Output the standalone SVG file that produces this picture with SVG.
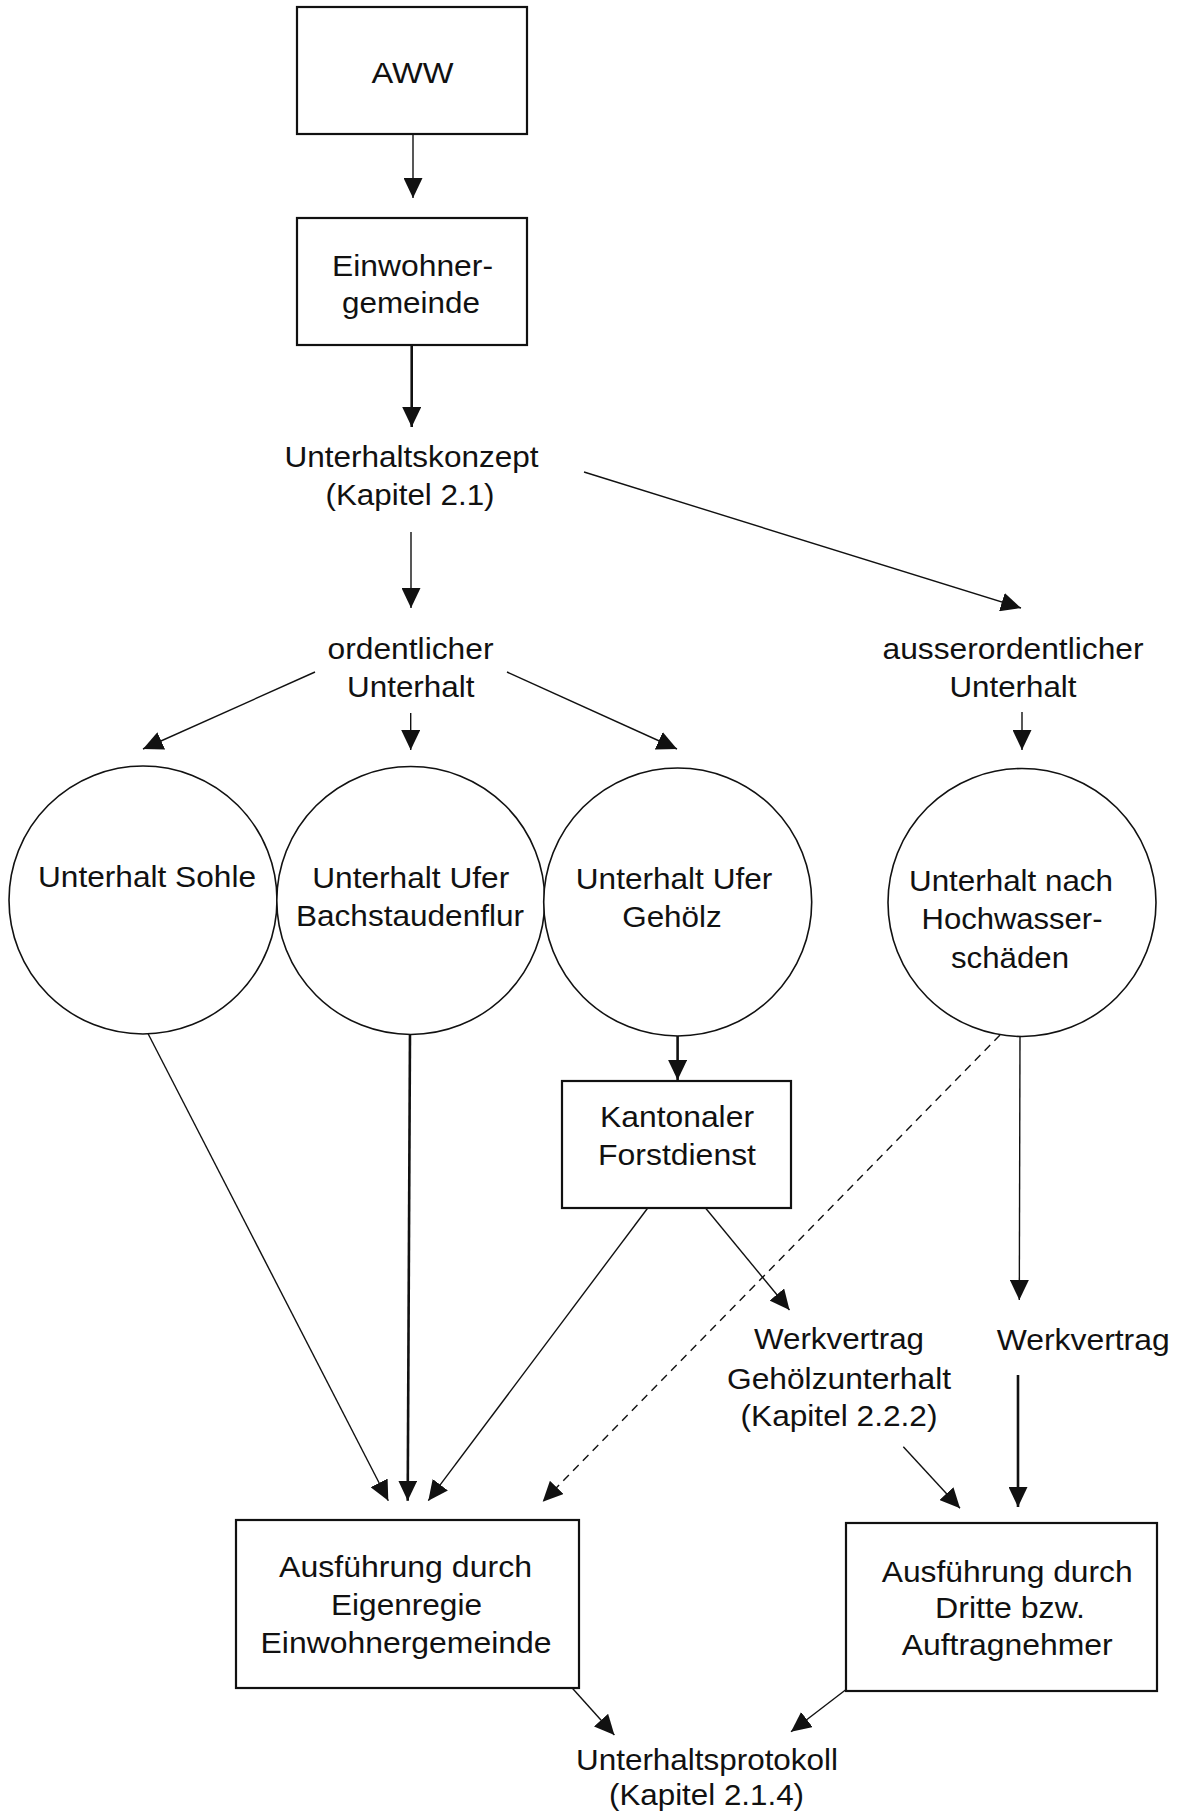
<svg xmlns="http://www.w3.org/2000/svg" width="1191" height="1815" viewBox="0 0 1191 1815">
<style>
text{font-family:"Liberation Sans",Arial,sans-serif;font-size:30px;fill:#111}
.box{fill:#fff;stroke:#111;stroke-width:2.2}
.circ{fill:#fff;stroke:#111;stroke-width:1.6}
.ln{stroke:#111;stroke-width:1.4;fill:none}
.thick{stroke-width:2.6}
.dash{stroke-dasharray:8 6}
</style>
<defs>
<marker id="ah" markerUnits="userSpaceOnUse" markerWidth="20" markerHeight="19" refX="20" refY="9.5" orient="auto">
<path d="M0,0 L20,9.5 L0,19 z" fill="#111"/>
</marker>
</defs>
<rect width="1191" height="1815" fill="#fff"/>
<g id="connectors">
<line class="ln" x1="413" y1="122" x2="413" y2="198" marker-end="url(#ah)"/>
<line class="ln thick" x1="411.7" y1="332" x2="411.7" y2="427" marker-end="url(#ah)"/>
<line class="ln" x1="411" y1="532" x2="411" y2="608" marker-end="url(#ah)"/>
<line class="ln" x1="584" y1="472" x2="1021" y2="608" marker-end="url(#ah)"/>
<line class="ln" x1="315" y1="672" x2="143" y2="749" marker-end="url(#ah)"/>
<line class="ln" x1="410.7" y1="713" x2="410.7" y2="750" marker-end="url(#ah)"/>
<line class="ln" x1="507" y1="672" x2="677" y2="749" marker-end="url(#ah)"/>
<line class="ln" x1="1022" y1="712" x2="1022" y2="750" marker-end="url(#ah)"/>
<line class="ln" x1="143.6" y1="1025" x2="388.3" y2="1500.7" marker-end="url(#ah)"/>
<line class="ln thick" x1="410" y1="1030" x2="407.7" y2="1500.7" marker-end="url(#ah)"/>
<line class="ln thick" x1="677.6" y1="1027" x2="677.6" y2="1080" marker-end="url(#ah)"/>
<line class="ln" x1="657.5" y1="1195" x2="428.3" y2="1500.7" marker-end="url(#ah)"/>
<line class="ln" x1="694.8" y1="1195" x2="789.5" y2="1310" marker-end="url(#ah)"/>
<line class="ln dash" x1="1000" y1="1035" x2="542.7" y2="1501.7" marker-end="url(#ah)"/>
<line class="ln" x1="1020" y1="1035" x2="1019.3" y2="1300" marker-end="url(#ah)"/>
<line class="ln thick" x1="1018" y1="1375" x2="1018" y2="1507" marker-end="url(#ah)"/>
<line class="ln" x1="903.3" y1="1446.7" x2="960" y2="1508.3" marker-end="url(#ah)"/>
<line class="ln" x1="560.5" y1="1675" x2="614.4" y2="1735" marker-end="url(#ah)"/>
<line class="ln" x1="865" y1="1675" x2="791" y2="1731.7" marker-end="url(#ah)"/>
</g>
<g id="aww">
<rect class="box" x="297" y="7" width="230" height="127"/>
<text x="371.5" y="83" textLength="82" lengthAdjust="spacingAndGlyphs">AWW</text>
</g>
<g id="einwohnergemeinde">
<rect class="box" x="297" y="218" width="230" height="127"/>
<text x="332" y="276" textLength="161" lengthAdjust="spacingAndGlyphs">Einwohner-</text>
<text x="342" y="313" textLength="138" lengthAdjust="spacingAndGlyphs">gemeinde</text>
</g>
<g id="unterhaltskonzept">
<text x="284.5" y="467" textLength="254" lengthAdjust="spacingAndGlyphs">Unterhaltskonzept</text>
<text x="325.5" y="505" textLength="169" lengthAdjust="spacingAndGlyphs">(Kapitel 2.1)</text>
</g>
<g id="ordentlicher">
<text x="327.5" y="659" textLength="166" lengthAdjust="spacingAndGlyphs">ordentlicher</text>
<text x="347" y="697" textLength="127.5" lengthAdjust="spacingAndGlyphs">Unterhalt</text>
</g>
<g id="ausserordentlicher">
<text x="882.5" y="659" textLength="261" lengthAdjust="spacingAndGlyphs">ausserordentlicher</text>
<text x="949.5" y="697" textLength="127" lengthAdjust="spacingAndGlyphs">Unterhalt</text>
</g>
<g id="sohle">
<circle class="circ" cx="143" cy="900" r="134"/>
<text x="38" y="887" textLength="218" lengthAdjust="spacingAndGlyphs">Unterhalt Sohle</text>
</g>
<g id="bachstaudenflur">
<circle class="circ" cx="410.8" cy="900.5" r="134"/>
<text x="312.2" y="888" textLength="197" lengthAdjust="spacingAndGlyphs">Unterhalt Ufer</text>
<text x="296" y="926" textLength="228" lengthAdjust="spacingAndGlyphs">Bachstaudenflur</text>
</g>
<g id="gehoelz">
<circle class="circ" cx="677.7" cy="902" r="134"/>
<text x="575.8" y="889" textLength="196.5" lengthAdjust="spacingAndGlyphs">Unterhalt Ufer</text>
<text x="622.2" y="927" textLength="99.6" lengthAdjust="spacingAndGlyphs">Gehölz</text>
</g>
<g id="hochwasser">
<circle class="circ" cx="1022" cy="902.5" r="134"/>
<text x="909" y="890.7" textLength="204" lengthAdjust="spacingAndGlyphs">Unterhalt nach</text>
<text x="921.5" y="929" textLength="181" lengthAdjust="spacingAndGlyphs">Hochwasser-</text>
<text x="951" y="967.7" textLength="118" lengthAdjust="spacingAndGlyphs">schäden</text>
</g>
<g id="forstdienst">
<rect class="box" x="562" y="1081" width="229" height="127"/>
<text x="600" y="1127" textLength="154" lengthAdjust="spacingAndGlyphs">Kantonaler</text>
<text x="598" y="1165" textLength="158" lengthAdjust="spacingAndGlyphs">Forstdienst</text>
</g>
<g id="werkvertrag-gehoelz">
<text x="754" y="1349" textLength="170" lengthAdjust="spacingAndGlyphs">Werkvertrag</text>
<text x="727" y="1389" textLength="224" lengthAdjust="spacingAndGlyphs">Gehölzunterhalt</text>
<text x="740.5" y="1426" textLength="197" lengthAdjust="spacingAndGlyphs">(Kapitel 2.2.2)</text>
</g>
<g id="werkvertrag">
<text x="996.7" y="1350" textLength="173" lengthAdjust="spacingAndGlyphs">Werkvertrag</text>
</g>
<g id="eigenregie">
<rect class="box" x="236" y="1520" width="343" height="168"/>
<text x="279" y="1577" textLength="253" lengthAdjust="spacingAndGlyphs">Ausführung durch</text>
<text x="331" y="1615" textLength="151" lengthAdjust="spacingAndGlyphs">Eigenregie</text>
<text x="260.5" y="1652.7" textLength="291" lengthAdjust="spacingAndGlyphs">Einwohnergemeinde</text>
</g>
<g id="dritte">
<rect class="box" x="846" y="1523" width="311" height="168"/>
<text x="881.7" y="1581.7" textLength="251" lengthAdjust="spacingAndGlyphs">Ausführung durch</text>
<text x="935" y="1618" textLength="150" lengthAdjust="spacingAndGlyphs">Dritte bzw.</text>
<text x="901.7" y="1655" textLength="211" lengthAdjust="spacingAndGlyphs">Auftragnehmer</text>
</g>
<g id="unterhaltsprotokoll">
<text x="576" y="1770" textLength="262" lengthAdjust="spacingAndGlyphs">Unterhaltsprotokoll</text>
<text x="609" y="1805" textLength="195" lengthAdjust="spacingAndGlyphs">(Kapitel 2.1.4)</text>
</g>
</svg>
